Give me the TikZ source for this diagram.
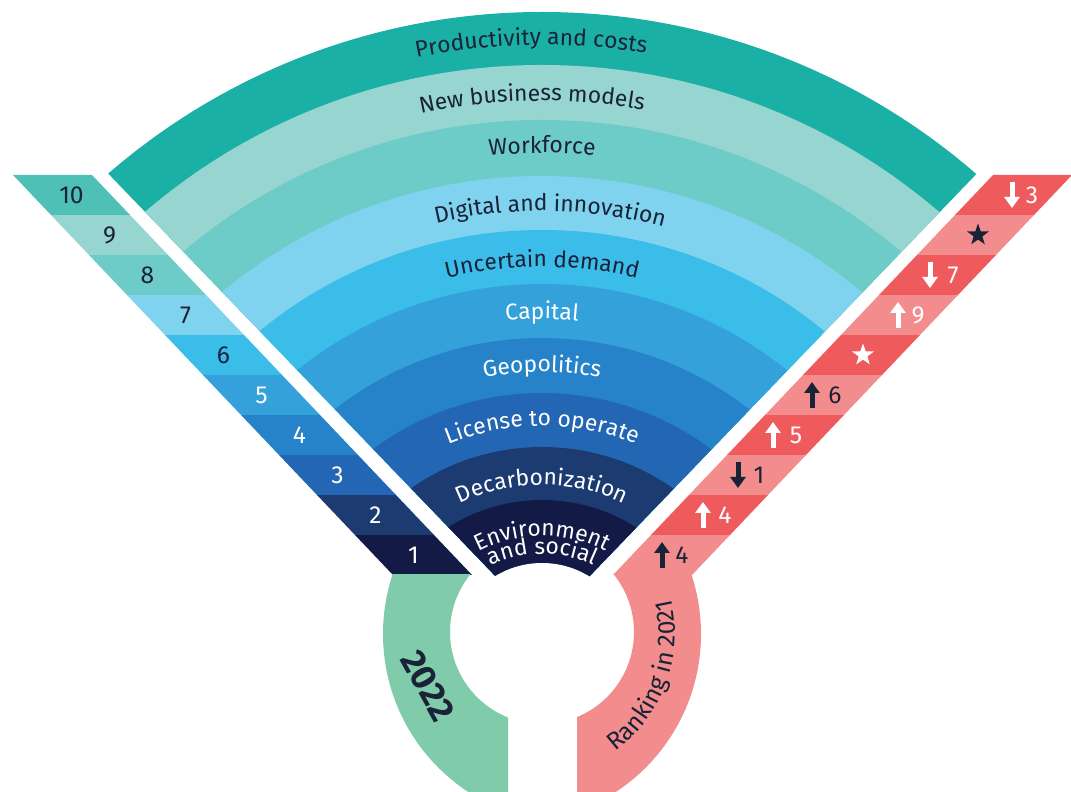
\documentclass[tikz,border=0pt]{standalone}
\usepackage{fontspec}
\setmainfont{Fira Sans}
\usetikzlibrary{arrows.meta}
\usetikzlibrary{decorations.text}
\usetikzlibrary{shapes.geometric}

\definecolor{prod}{HTML}{1BB0A5}
\definecolor{newbiz}{HTML}{97D5D1}
\definecolor{work}{HTML}{6DCBC8}
\definecolor{digital}{HTML}{7FD3EE}
\definecolor{uncert}{HTML}{3BBDEA}
\definecolor{capital}{HTML}{35A1DB}
\definecolor{geo}{HTML}{2783C9}
\definecolor{license}{HTML}{2366B3}
\definecolor{decarb}{HTML}{1C3B71}
\definecolor{env}{HTML}{121A45}
\definecolor{topbar}{HTML}{4FC0B5}
\definecolor{redbar}{HTML}{EF5B5C}
\definecolor{pinkbar}{HTML}{F38D8D}
\definecolor{mint}{HTML}{80CBA9}
\definecolor{ink}{HTML}{1A2238}

\newcommand\lblfont{\fontsize{13}{15}\selectfont}
\newcommand\numfont{\fontsize{14}{16}\selectfont}
\newcommand\yearfont{\fontsize{20}{22}\selectfont\bfseries}
\newcommand\rankfont{\fontsize{14}{16}\selectfont}

\tikzset{
    arclbl/.style={decorate, decoration={text along path, text align=center, text color=ink, text={|\lblfont|#1}}},
    num/.style={font=\numfont, text=ink, inner sep=0pt},
    up/.style={line width=0.1cm, -{Triangle[width=0.3cm, length=0.22cm]}},
    starmark/.style={star, star points=5, star point ratio=2.5, minimum size=0.46cm, inner sep=0pt},
}

\begin{document}
\begin{tikzpicture}[x=0.02cm, y=0.02cm]
    \useasboundingbox (0,0) rectangle (1071,791);

    \coordinate (c) at (542,116);
    \coordinate (hole) at (542,138);

    % fan of rings, cut to the wedge
    \begin{scope}
        \clip (542.5,166) -- (-155,891) -- (1240,891) -- cycle;
        \fill[prod] (c) circle (663);
        \fill[newbiz] (c) circle (610);
        \fill[work] (c) circle (555);
        \fill[digital] (c) circle (499);
        \fill[uncert] (c) circle (445);
        \fill[capital] (c) circle (391);
        \fill[geo] (c) circle (337);
        \fill[license] (c) circle (282);
        \fill[decarb] (c) circle (228);
        \fill[env] (c) circle (175);
    \end{scope}
    \fill[white] (hole) circle (90);

    \path[arclbl={Productivity and costs}] (c) ++(151:630) arc (151:31:630);
    \path[arclbl={New business models}] (c) ++(151:574) arc (151:31:574);
    \path[arclbl={Workforce}] (c) ++(150:522) arc (150:30:522);
    \path[arclbl={Digital and innovation}] (c) ++(149:464) arc (149:29:464);
    \path[arclbl={Uncertain demand}] (c) ++(150:408) arc (150:30:408);
    \path[arclbl={Capital}, decoration={text color=white}] (c) ++(150:356) arc (150:30:356);
    \path[arclbl={Geopolitics}, decoration={text color=white}] (c) ++(150:303) arc (150:30:303);
    \path[arclbl={License to operate}, decoration={text color=white}] (c) ++(150:249) arc (150:30:249);
    \path[arclbl={Decarbonization}, decoration={text color=white}] (c) ++(150:190) arc (150:30:190);
    \path[arclbl={Environment}, decoration={text color=white}] (c) ++(160:139) arc (160:20:139);
    \path[arclbl={and social}, decoration={text color=white}] (c) ++(160:121) arc (160:20:121);

    % 2022 ranks
    \fill[env] (393,216) -- ++(79,0) -- ++(-38,40) -- ++(-79,0) -- cycle;
    \fill[decarb] (355,256) -- ++(79,0) -- ++(-38,40) -- ++(-79,0) -- cycle;
    \fill[license] (317,296) -- ++(79,0) -- ++(-38,40) -- ++(-79,0) -- cycle;
    \fill[geo] (279,336) -- ++(79,0) -- ++(-38,40) -- ++(-79,0) -- cycle;
    \fill[capital] (241,376) -- ++(79,0) -- ++(-38,40) -- ++(-79,0) -- cycle;
    \fill[uncert] (203,416) -- ++(79,0) -- ++(-38,40) -- ++(-79,0) -- cycle;
    \fill[digital] (165,456) -- ++(79,0) -- ++(-38,40) -- ++(-79,0) -- cycle;
    \fill[work] (127,496) -- ++(79,0) -- ++(-38,40) -- ++(-79,0) -- cycle;
    \fill[newbiz] (89,536) -- ++(79,0) -- ++(-38,40) -- ++(-79,0) -- cycle;
    \fill[topbar] (51,576) -- ++(79,0) -- ++(-38,40) -- ++(-79,0) -- cycle;

    \node[num, text=white] (n1) at (413.5,236) {1};
    \node[num, text=white] (n2) at (375.5,276) {2};
    \node[num, text=white] (n3) at (337.5,316) {3};
    \node[num, text=white] (n4) at (299.5,356) {4};
    \node[num, text=white] (n5) at (261.5,396) {5};
    \node[num] (n6) at (223.5,436) {6};
    \node[num] (n7) at (185.5,476) {7};
    \node[num] (n8) at (147.5,516) {8};
    \node[num] (n9) at (109.5,556) {9};
    \node[num] (n10) at (71.5,596) {10};

    % 2021 ranks
    \fill[pinkbar] (613,216) -- ++(79,0) -- ++(38,40) -- ++(-79,0) -- cycle;
    \fill[redbar] (651,256) -- ++(79,0) -- ++(38,40) -- ++(-79,0) -- cycle;
    \fill[pinkbar] (689,296) -- ++(79,0) -- ++(38,40) -- ++(-79,0) -- cycle;
    \fill[redbar] (727,336) -- ++(79,0) -- ++(38,40) -- ++(-79,0) -- cycle;
    \fill[pinkbar] (765,376) -- ++(79,0) -- ++(38,40) -- ++(-79,0) -- cycle;
    \fill[redbar] (803,416) -- ++(79,0) -- ++(38,40) -- ++(-79,0) -- cycle;
    \fill[pinkbar] (841,456) -- ++(79,0) -- ++(38,40) -- ++(-79,0) -- cycle;
    \fill[redbar] (879,496) -- ++(79,0) -- ++(38,40) -- ++(-79,0) -- cycle;
    \fill[pinkbar] (917,536) -- ++(79,0) -- ++(38,40) -- ++(-79,0) -- cycle;
    \fill[redbar] (955,576) -- ++(79,0) -- ++(38,40) -- ++(-79,0) -- cycle;

    \draw[up, ink] (662,223) -- (662,249);
    \node[num] (r1) at (682,236) {4};
    \draw[up, white] (703,263) -- (703,289);
    \node[num, text=white] (r2) at (725,276) {4};
    \draw[up, ink] (738,329) -- (738,303);
    \node[num] (r3) at (759,316) {1};
    \draw[up, white] (773,343) -- (773,369);
    \node[num, text=white] (r4) at (796,356) {5};
    \draw[up, ink] (812,383) -- (812,409);
    \node[num] (r5) at (835,396) {6};
    \node[starmark, fill=white] (r6) at (863,436) {};
    \draw[up, white] (898,463) -- (898,489);
    \node[num, text=white] (r7) at (918,476) {9};
    \draw[up, white] (930,529) -- (930,503);
    \node[num, text=white] (r8) at (953,516) {7};
    \node[starmark, fill=ink] (r9) at (978,556) {};
    \draw[up, white] (1012,609) -- (1012,583);
    \node[num, text=white] (r10) at (1032,596) {3};

    % year rings
    \begin{scope}
        \clip (0,0) rectangle (508,216);
        \fill[mint, even odd rule] (572,157) circle (189) (542,159) circle (92);
    \end{scope}
    \begin{scope}
        \clip (577,0) rectangle (1071,216);
        \fill[pinkbar, even odd rule] (512,157) circle (189) (542,159) circle (92);
    \end{scope}

    \node[font=\yearfont, text=ink, rotate=-61] (year) at (428,105) {2022};
    \path[decorate, decoration={text along path, text align=center, text color=ink, text={|\rankfont|Ranking in 2021}}] (527,158) ++(-68:148) arc (-68:28:148);
\end{tikzpicture}
\end{document}
